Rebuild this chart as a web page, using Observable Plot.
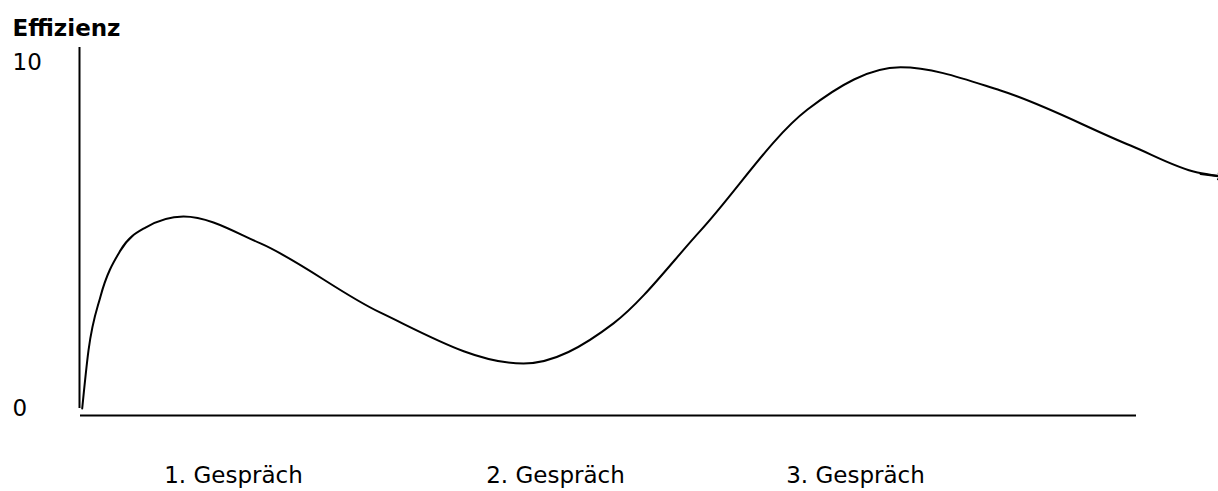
<!DOCTYPE html>
<html>
<head>
<meta charset="utf-8">
<script src="https://cdn.jsdelivr.net/npm/d3@7"></script>
<script src="https://cdn.jsdelivr.net/npm/@observablehq/plot@0.6"></script>
<style>
  html, body { margin: 0; padding: 0; background: #fff; }
</style>
</head>
<body>
<div id="chart"></div>
<script>
// Curve samples (t = horizontal position, v = Effizienz 0..10)
const curveT = [2.7, 9, 21, 41, 66, 104, 181, 301, 444, 534, 621, 728, 821, 921, 1051, 1118, 1143];
const curveV = [0, 1.68, 3.24, 4.57, 5.23, 5.55, 4.77, 2.77, 1.30, 2.46, 5.14, 8.64, 9.86, 9.19, 7.60, 6.82, 6.71];

// Category labels along the horizontal axis
const xLabels = ["1. Gespräch", "2. Gespräch", "3. Gespräch"];
const xLabelPos = [154, 476, 776];

// Y tick labels
const yTicks = [0, 10];

// Axis extents
const xAxisStart = 1, xAxisEnd = 1057, xAxisLevel = -0.2;
const yAxisTop = 10.43;

// Arrow end of the curve
const arrowFrom = {x1: 1121, y1: 6.78, x2: 1147, y2: 6.68};

const curve = curveT.map((t, i) => ({t, v: curveV[i]}));

const chart = Plot.plot({
  width: 1218,
  height: 491,
  marginLeft: 79,
  marginRight: 0,
  marginTop: 62,
  marginBottom: 83,
  x: {domain: [0, 1139]},
  y: {domain: [0, 10]},
  style: {fontFamily: "DejaVu Sans, Verdana, sans-serif", fontSize: "23px", color: "black", background: "white"},
  marks: [
    Plot.ruleY([xAxisLevel], {x1: xAxisStart, x2: xAxisEnd, stroke: "black", strokeWidth: 2}),
    Plot.ruleX([0], {y1: 0, y2: yAxisTop, stroke: "black", strokeWidth: 2}),
    Plot.line(curve, {x: "t", y: "v", curve: "monotone-x", stroke: "black", strokeWidth: 2}),
    Plot.arrow([arrowFrom], {x1: "x1", y1: "y1", x2: "x2", y2: "y2", headLength: 18, headAngle: 40, stroke: "black", strokeWidth: 2}),
    Plot.axisY(yTicks, {anchor: "left", tickSize: 0, tickPadding: 67, textAnchor: "start", fontSize: 23, label: null, fill: "black"}),
    Plot.axisX(xLabelPos, {anchor: "bottom", tickSize: 0, tickPadding: 58, fontSize: 23, label: null, fill: "black",
      tickFormat: d => xLabels[xLabelPos.indexOf(d)]}),
    Plot.text(["Effizienz"], {frameAnchor: "top-left", textAnchor: "start", lineAnchor: "bottom", dx: -67, dy: -27, fontSize: 23, fontWeight: "bold", fill: "black"})
  ]
});
document.getElementById("chart").appendChild(chart);
</script>
</body>
</html>
